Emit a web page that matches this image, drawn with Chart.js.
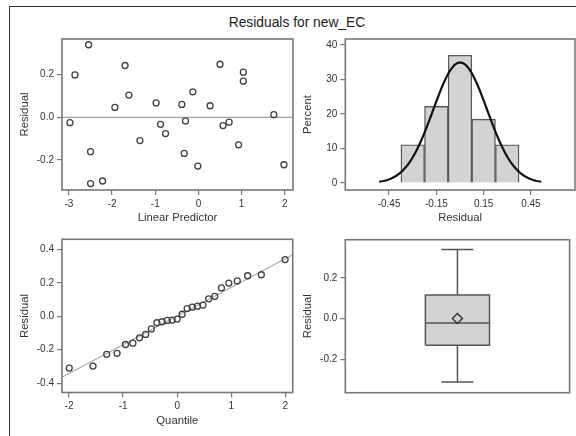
<!DOCTYPE html>
<html><head><meta charset="utf-8">
<script src="https://cdn.jsdelivr.net/npm/chart.js@4.4.1/dist/chart.umd.min.js"></script>
<style>
html,body{margin:0;padding:0;background:#fff;}
body{width:576px;height:436px;position:relative;overflow:hidden;font-family:"Liberation Sans",Arial,sans-serif;}
canvas{position:absolute;}
#title{position:absolute;left:197px;width:200px;top:15px;line-height:16px;text-align:center;font-size:13.8px;color:#222;white-space:nowrap;}
#bt{position:absolute;left:9px;top:5.5px;width:567px;height:0;border-top:1.3px solid #333;}
#bl{position:absolute;left:8.5px;top:5.5px;width:0;height:431px;border-left:1.3px solid #333;}
</style></head>
<body>
<div id="bt"></div><div id="bl"></div>
<div id="title">Residuals for new_EC</div>
<canvas id="c1" width="291" height="200" style="left:9px;top:30px;width:291px;height:200px"></canvas>
<canvas id="c2" width="276" height="200" style="left:300px;top:30px;width:276px;height:200px"></canvas>
<canvas id="c3" width="291" height="206" style="left:9px;top:230px;width:291px;height:206px"></canvas>
<canvas id="c4" width="276" height="206" style="left:300px;top:230px;width:276px;height:206px"></canvas>
<script>
// ---- data ----
const linearPredictor = [-2.977,-2.86,-2.544,-2.498,-2.498,-2.22,-1.935,-1.70,-1.61,-1.356,-0.98,-0.877,-0.762,-0.384,-0.33,-0.30,-0.13,-0.014,0.27,0.50,0.57,0.71,0.93,1.04,1.04,1.745,1.98];
const residuals =       [-0.025,0.198,0.339,-0.161,-0.310,-0.298,0.046,0.242,0.104,-0.109,0.067,-0.033,-0.076,0.060,-0.169,-0.017,0.119,-0.228,0.054,0.248,-0.039,-0.023,-0.129,0.211,0.169,0.012,-0.222];
const normalQuantiles = [-1.996,-1.557,-1.303,-1.112,-0.955,-0.819,-0.696,-0.583,-0.477,-0.376,-0.279,-0.185,-0.092,0,0.092,0.185,0.279,0.376,0.477,0.583,0.696,0.819,0.955,1.112,1.303,1.557,1.996];
const binCenters = [-0.30,-0.15,0,0.15,0.30];
const binPercent = [11.1,22.2,37.0,18.5,11.1];
const boxValues = [-0.310,-0.130,-0.021,0.116,0.339]; // min, q1, median, q3, max
const boxMean = 0.001;

const lpTicks = [-3,-2,-1,0,1,2];
const resTicks = [-0.2,0,0.2];
const pctTicks = [0,10,20,30,40];
const histTicks = [-0.45,-0.15,0.15,0.45];
const qTicks = [-2,-1,0,1,2];
const qResTicks = [-0.4,-0.2,0,0.2,0.4];

// fitted normal from residuals
const n = residuals.length;
const mu = residuals.reduce((a,b)=>a+b,0)/n;
const sd = Math.sqrt(residuals.reduce((a,b)=>a+(b-mu)*(b-mu),0)/(n-1));
const binWidth = 0.15;
const curve = [];
for (let i=0;i<=120;i++){ const x = mu-3*sd + i*(6*sd/120); const z=(x-mu)/sd;
  curve.push({x, y: 100*binWidth*Math.exp(-0.5*z*z)/(sd*Math.sqrt(2*Math.PI))}); }
const sortedRes = residuals.slice().sort((a,b)=>a-b);

// ---- styling ----
Chart.defaults.font.family = '"Liberation Sans", Arial, sans-serif';
Chart.defaults.color = '#333';
Chart.defaults.animation = false;
Chart.defaults.plugins.legend.display = false;
Chart.defaults.plugins.tooltip.enabled = false;

const framePlugin = {id:'frame', afterDatasetsDraw(chart){
  const {ctx, chartArea:a} = chart; ctx.save(); ctx.strokeStyle='#777'; ctx.lineWidth=1.6;
  ctx.strokeRect(a.left, a.top, a.right-a.left, a.bottom-a.top); ctx.restore(); }};
const zeroPlugin = {id:'zero', beforeDatasetsDraw(chart){
  const {ctx, chartArea:a, scales} = chart; const y = scales.y.getPixelForValue(0);
  ctx.save(); ctx.strokeStyle='#8a8a8a'; ctx.lineWidth=1; ctx.beginPath();
  ctx.moveTo(a.left,y); ctx.lineTo(a.right,y); ctx.stroke(); ctx.restore(); }};

function axis(min,max,ticks,dec,title,size,titlePad,isY){
  const o = {type:'linear', min, max,
    afterBuildTicks: s=>{ s.ticks = ticks.map(v=>({value:v})); },
    afterFit: s=>{ if(isY) s.width=size; else s.height=size; },
    ticks:{font:{size:10}, color:'#333', padding:3, maxRotation:0, autoSkip:false,
      callback:v=>Number(v).toFixed(dec)},
    grid:{display:true, drawOnChartArea:false, drawTicks:true, tickLength:5, color:'#777', lineWidth:1.2, offset:false},
    border:{display:false}, offset:false,
    title:{display:!!title, text:title, font:{size:11.3}, color:'#333', padding:isY?{top:titlePad,bottom:0}:{top:0,bottom:titlePad}}
  };
  return o;
}
const pt = {pointRadius:3, pointBorderWidth:1.3, pointBorderColor:'#404040', pointBackgroundColor:'rgba(0,0,0,0)', pointHoverRadius:3};

// Panel 1: residual vs linear predictor
new Chart(document.getElementById('c1'), {
  type:'scatter',
  data:{datasets:[Object.assign({data: linearPredictor.map((x,i)=>({x, y: residuals[i]}))}, pt)]},
  options:{responsive:false, layout:{padding:{left:0,right:7,top:7,bottom:5}},
    scales:{x: axis(-3.16,2.19,lpTicks,0,'Linear Predictor',35,0,false),
            y: axis(-0.34,0.366,resTicks,1,'Residual',53,9.2,true)}},
  plugins:[zeroPlugin, framePlugin]
});

// Panel 2: histogram with normal curve
new Chart(document.getElementById('c2'), {
  type:'bar',
  data:{datasets:[
    {type:'line', data: curve, borderColor:'#111', borderWidth:2.2, pointRadius:0, tension:0, order:0},
    {type:'bar', data: binCenters.map((x,i)=>({x, y: binPercent[i]})), backgroundColor:'#d3d3d3',
     borderColor:'#5a5a5a', borderWidth:1.4, barPercentage:1, categoryPercentage:1, order:1}
  ]},
  options:{responsive:false, layout:{padding:{left:0,right:1,top:7.3,bottom:5}},
    scales:{x: axis(-0.728,0.73,histTicks,2,'Residual',35,0,false),
            y: axis(-2.0,41.7,pctTicks,0,'Percent',45.3,1.5,true)}},
  plugins:[framePlugin]
});

// Panel 3: Q-Q plot
new Chart(document.getElementById('c3'), {
  type:'scatter',
  data:{datasets:[
    Object.assign({data: normalQuantiles.map((x,i)=>({x, y: sortedRes[i]})), order:0}, pt),
    {type:'line', data:[{x:-2.3, y:mu-2.3*sd},{x:2.3, y:mu+2.3*sd}], borderColor:'#a8a8a8', borderWidth:1.1, pointRadius:0, order:1}
  ]},
  options:{responsive:false, layout:{padding:{left:0,right:7.3,top:9.3,bottom:8.5}},
    scales:{x: axis(-2.13,2.137,qTicks,0,'Quantile',35,0,false),
            y: axis(-0.456,0.46,qResTicks,1,'Residual',53,9.2,true)}},
  plugins:[framePlugin]
});

// Panel 4: box plot
const [bMin,bQ1,bMed,bQ3,bMax] = boxValues;
const bx0 = 0.357, bx1 = 0.643, cx = 0.5, c0 = 0.429, c1 = 0.571;
const seg = (pts, extra)=>Object.assign({type:'line', data:pts, borderColor:'#555', borderWidth:1.5, pointRadius:0, showLine:true, fill:false}, extra||{});
new Chart(document.getElementById('c4'), {
  type:'scatter',
  data:{datasets:[
    {type:'scatter', data:[{x:cx,y:boxMean}], pointStyle:'rectRot', pointRadius:5, pointBorderWidth:1.4,
      pointBorderColor:'#333', pointBackgroundColor:'#d3d3d3', order:0},
    seg([{x:bx0,y:bMed},{x:bx1,y:bMed}],{order:1}),
    seg([{x:bx0,y:bQ1},{x:bx1,y:bQ1},{x:bx1,y:bQ3},{x:bx0,y:bQ3},{x:bx0,y:bQ1}],{order:2}),
    seg([{x:bx0,y:bQ1},{x:bx1,y:bQ1}],{borderWidth:0, fill:{value:bQ3}, backgroundColor:'#d3d3d3', order:3}),
    seg([{x:cx,y:bQ3},{x:cx,y:bMax}],{order:4}),
    seg([{x:cx,y:bQ1},{x:cx,y:bMin}],{order:4}),
    seg([{x:c0,y:bMax},{x:c1,y:bMax}],{order:4}),
    seg([{x:c0,y:bMin},{x:c1,y:bMin}],{order:4})
  ]},
  options:{responsive:false, layout:{padding:{left:0,right:1,top:9.7,bottom:43.3}},
    scales:{x:{type:'linear', min:0, max:1, display:false},
            y: axis(-0.363,0.387,resTicks,1,'Residual',45.3,1.5,true)}},
  plugins:[framePlugin]
});
</script>
</body></html>
